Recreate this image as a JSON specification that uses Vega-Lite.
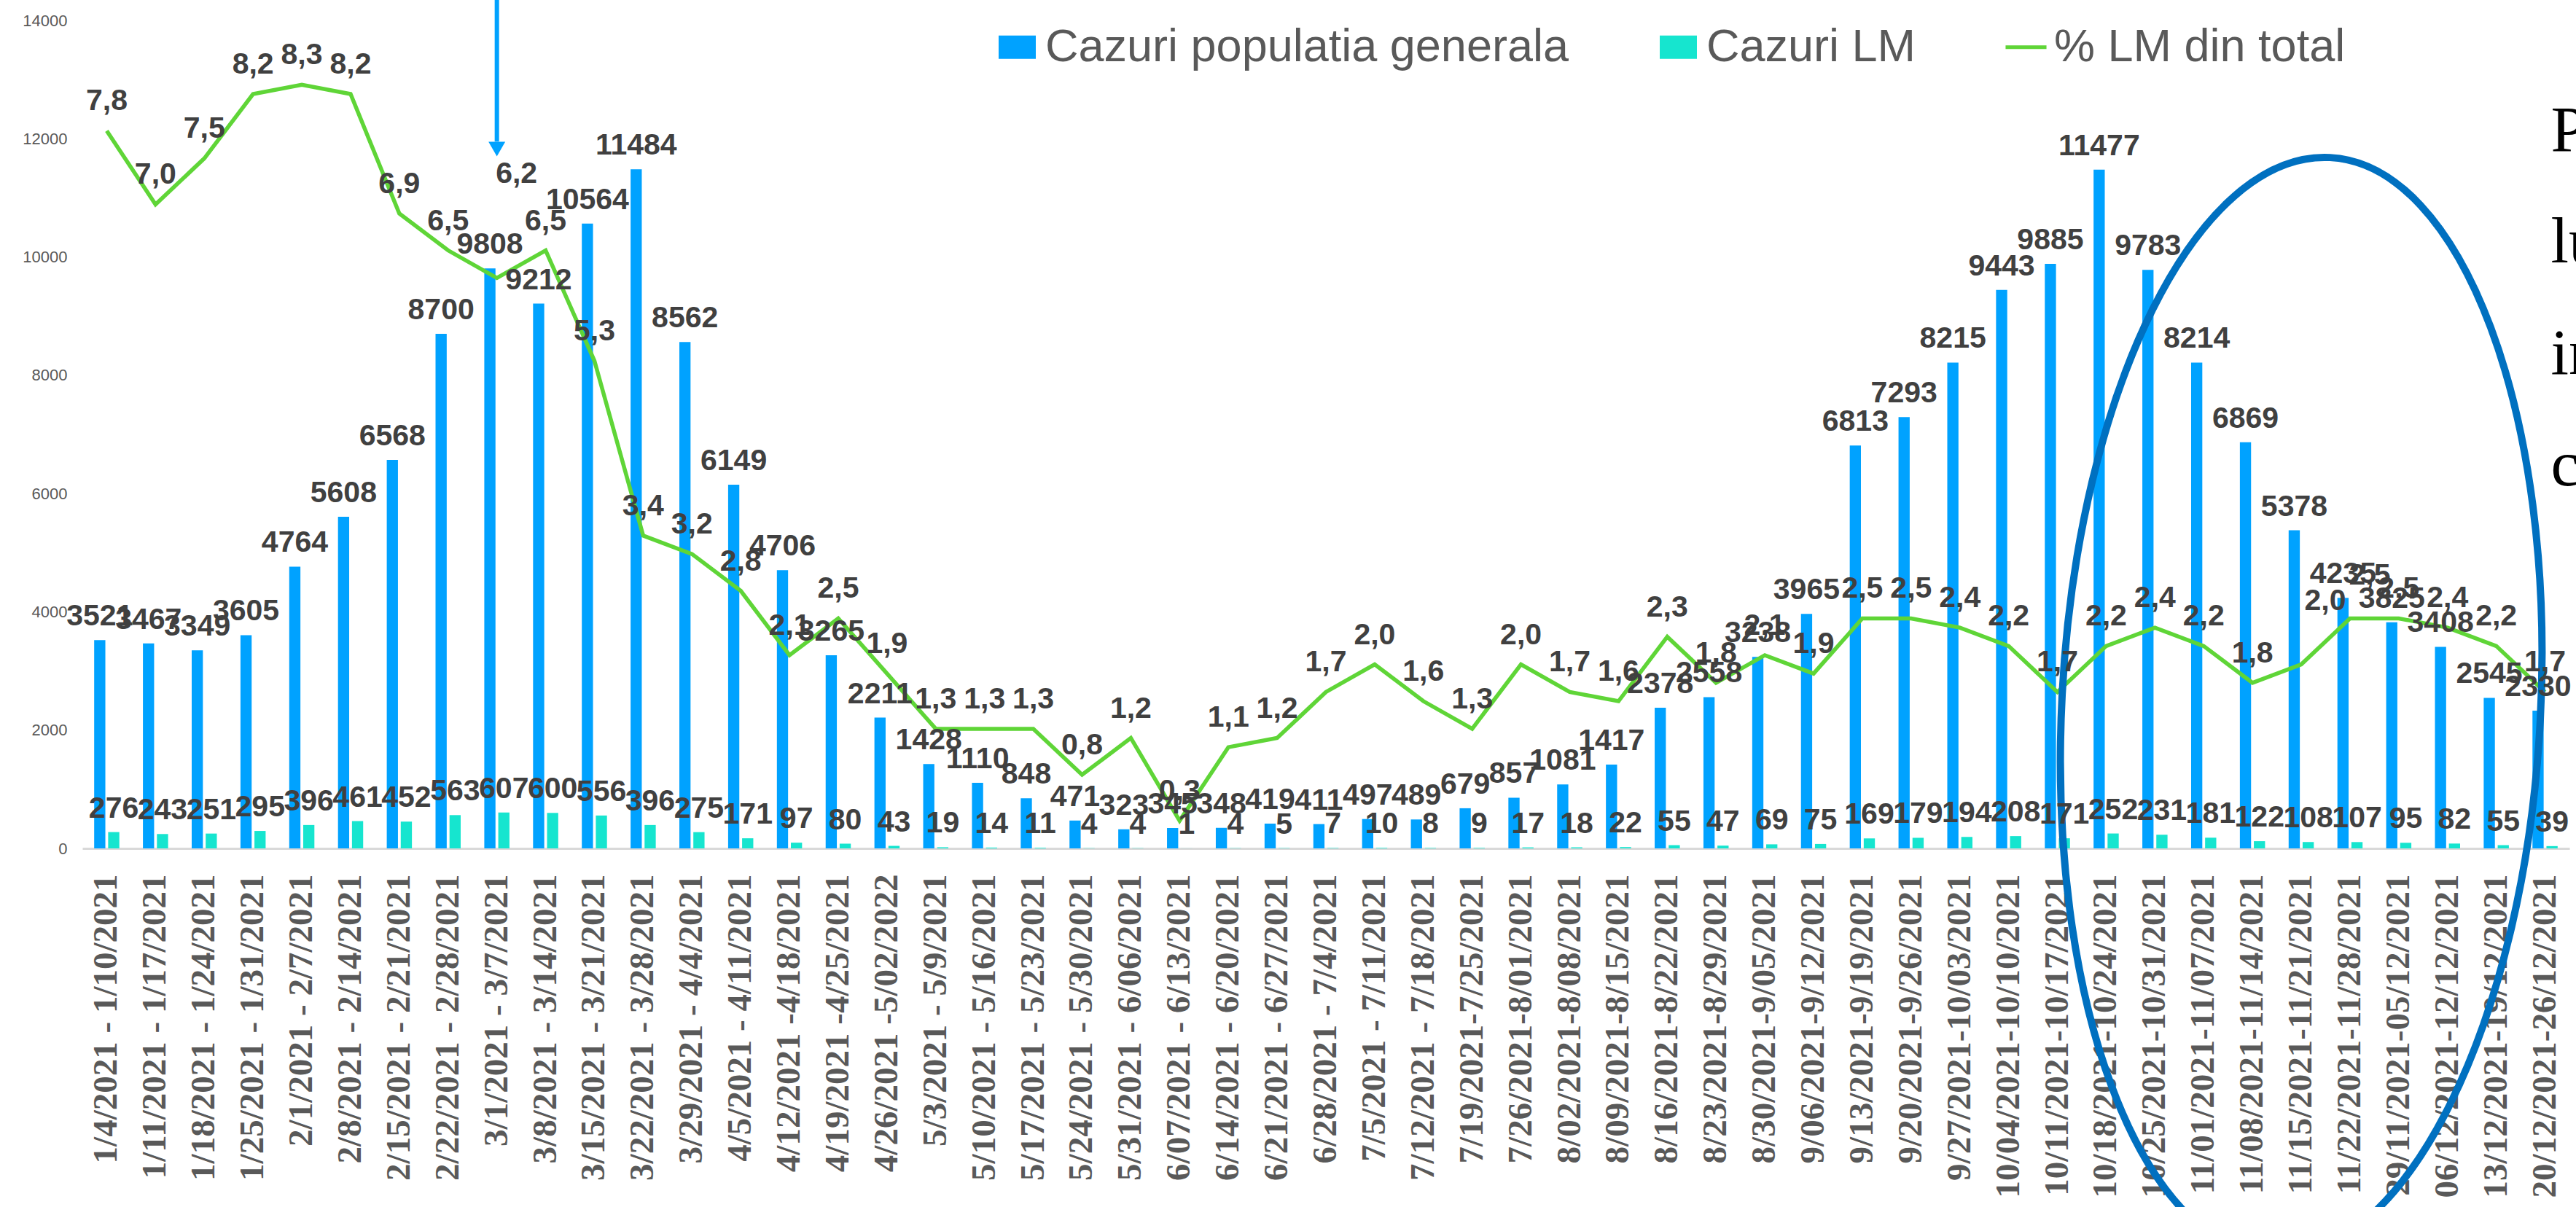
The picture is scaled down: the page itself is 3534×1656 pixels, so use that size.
{
  "$schema": "https://vega.github.io/schema/vega-lite/v6.json",
  "width": 3412,
  "height": 1136,
  "autosize": {"type": "none"},
  "padding": {"left": 113, "top": 28, "right": 9, "bottom": 492},
  "background": "white",
  "config": {
    "view": {"stroke": null},
    "font": "Liberation Sans",
    "locale": {"number": {"decimal": ",", "thousands": ".", "grouping": [3], "currency": ["", ""]}}
  },
  "data": {"values": [
    {"week": "1/4/2021 - 1/10/2021", "gen": 3521, "lm": 276, "pct": 7.8},
    {"week": "1/11/2021 - 1/17/2021", "gen": 3467, "lm": 243, "pct": 7.0},
    {"week": "1/18/2021 - 1/24/2021", "gen": 3349, "lm": 251, "pct": 7.5},
    {"week": "1/25/2021 - 1/31/2021", "gen": 3605, "lm": 295, "pct": 8.2},
    {"week": "2/1/2021 - 2/7/2021", "gen": 4764, "lm": 396, "pct": 8.3},
    {"week": "2/8/2021 - 2/14/2021", "gen": 5608, "lm": 461, "pct": 8.2},
    {"week": "2/15/2021 - 2/21/2021", "gen": 6568, "lm": 452, "pct": 6.9},
    {"week": "2/22/2021 - 2/28/2021", "gen": 8700, "lm": 563, "pct": 6.5},
    {"week": "3/1/2021 - 3/7/2021", "gen": 9808, "lm": 607, "pct": 6.2},
    {"week": "3/8/2021 - 3/14/2021", "gen": 9212, "lm": 600, "pct": 6.5},
    {"week": "3/15/2021 - 3/21/2021", "gen": 10564, "lm": 556, "pct": 5.3},
    {"week": "3/22/2021 - 3/28/2021", "gen": 11484, "lm": 396, "pct": 3.4},
    {"week": "3/29/2021 - 4/4/2021", "gen": 8562, "lm": 275, "pct": 3.2},
    {"week": "4/5/2021 - 4/11/2021", "gen": 6149, "lm": 171, "pct": 2.8},
    {"week": "4/12/2021 -4/18/2021", "gen": 4706, "lm": 97, "pct": 2.1},
    {"week": "4/19/2021 -4/25/2021", "gen": 3265, "lm": 80, "pct": 2.5},
    {"week": "4/26/2021 -5/02/2022", "gen": 2211, "lm": 43, "pct": 1.9},
    {"week": "5/3/2021 - 5/9/2021", "gen": 1428, "lm": 19, "pct": 1.3},
    {"week": "5/10/2021 - 5/16/2021", "gen": 1110, "lm": 14, "pct": 1.3},
    {"week": "5/17/2021 - 5/23/2021", "gen": 848, "lm": 11, "pct": 1.3},
    {"week": "5/24/2021 - 5/30/2021", "gen": 471, "lm": 4, "pct": 0.8},
    {"week": "5/31/2021 - 6/06/2021", "gen": 323, "lm": 4, "pct": 1.2},
    {"week": "6/07/2021 - 6/13/2021", "gen": 345, "lm": 1, "pct": 0.3},
    {"week": "6/14/2021 - 6/20/2021", "gen": 348, "lm": 4, "pct": 1.1},
    {"week": "6/21/2021 - 6/27/2021", "gen": 419, "lm": 5, "pct": 1.2},
    {"week": "6/28/2021 - 7/4/2021", "gen": 411, "lm": 7, "pct": 1.7},
    {"week": "7/5/2021 - 7/11/2021", "gen": 497, "lm": 10, "pct": 2.0},
    {"week": "7/12/2021 - 7/18/2021", "gen": 489, "lm": 8, "pct": 1.6},
    {"week": "7/19/2021-7/25/2021", "gen": 679, "lm": 9, "pct": 1.3},
    {"week": "7/26/2021-8/01/2021", "gen": 857, "lm": 17, "pct": 2.0},
    {"week": "8/02/2021-8/08/2021", "gen": 1081, "lm": 18, "pct": 1.7},
    {"week": "8/09/2021-8/15/2021", "gen": 1417, "lm": 22, "pct": 1.6},
    {"week": "8/16/2021-8/22/2021", "gen": 2378, "lm": 55, "pct": 2.3},
    {"week": "8/23/2021-8/29/2021", "gen": 2558, "lm": 47, "pct": 1.8},
    {"week": "8/30/2021-9/05/2021", "gen": 3238, "lm": 69, "pct": 2.1},
    {"week": "9/06/2021-9/12/2021", "gen": 3965, "lm": 75, "pct": 1.9},
    {"week": "9/13/2021-9/19/2021", "gen": 6813, "lm": 169, "pct": 2.5},
    {"week": "9/20/2021-9/26/2021", "gen": 7293, "lm": 179, "pct": 2.5},
    {"week": "9/27/2021-10/03/2021", "gen": 8215, "lm": 194, "pct": 2.4},
    {"week": "10/04/2021-10/10/2021", "gen": 9443, "lm": 208, "pct": 2.2},
    {"week": "10/11/2021-10/17/2021", "gen": 9885, "lm": 171, "pct": 1.7},
    {"week": "10/18/2021-10/24/2021", "gen": 11477, "lm": 252, "pct": 2.2},
    {"week": "10/25/2021-10/31/2021", "gen": 9783, "lm": 231, "pct": 2.4},
    {"week": "11/01/2021-11/07/2021", "gen": 8214, "lm": 181, "pct": 2.2},
    {"week": "11/08/2021-11/14/2021", "gen": 6869, "lm": 122, "pct": 1.8},
    {"week": "11/15/2021-11/21/2021", "gen": 5378, "lm": 108, "pct": 2.0},
    {"week": "11/22/2021-11/28/2021", "gen": 4235, "lm": 107, "pct": 2.5},
    {"week": "29/11/2021-05/12/2021", "gen": 3825, "lm": 95, "pct": 2.5},
    {"week": "06/12/2021-12/12/2021", "gen": 3408, "lm": 82, "pct": 2.4},
    {"week": "13/12/2021-19/12/2021", "gen": 2545, "lm": 55, "pct": 2.2},
    {"week": "20/12/2021-26/12/2021", "gen": 2330, "lm": 39, "pct": 1.7}
  ]},
  "encoding": {
    "x": {
      "field": "week",
      "type": "nominal",
      "scale": {
        "domain": ["1/4/2021 - 1/10/2021","1/11/2021 - 1/17/2021","1/18/2021 - 1/24/2021","1/25/2021 - 1/31/2021","2/1/2021 - 2/7/2021","2/8/2021 - 2/14/2021","2/15/2021 - 2/21/2021","2/22/2021 - 2/28/2021","3/1/2021 - 3/7/2021","3/8/2021 - 3/14/2021","3/15/2021 - 3/21/2021","3/22/2021 - 3/28/2021","3/29/2021 - 4/4/2021","4/5/2021 - 4/11/2021","4/12/2021 -4/18/2021","4/19/2021 -4/25/2021","4/26/2021 -5/02/2022","5/3/2021 - 5/9/2021","5/10/2021 - 5/16/2021","5/17/2021 - 5/23/2021","5/24/2021 - 5/30/2021","5/31/2021 - 6/06/2021","6/07/2021 - 6/13/2021","6/14/2021 - 6/20/2021","6/21/2021 - 6/27/2021","6/28/2021 - 7/4/2021","7/5/2021 - 7/11/2021","7/12/2021 - 7/18/2021","7/19/2021-7/25/2021","7/26/2021-8/01/2021","8/02/2021-8/08/2021","8/09/2021-8/15/2021","8/16/2021-8/22/2021","8/23/2021-8/29/2021","8/30/2021-9/05/2021","9/06/2021-9/12/2021","9/13/2021-9/19/2021","9/20/2021-9/26/2021","9/27/2021-10/03/2021","10/04/2021-10/10/2021","10/11/2021-10/17/2021","10/18/2021-10/24/2021","10/25/2021-10/31/2021","11/01/2021-11/07/2021","11/08/2021-11/14/2021","11/15/2021-11/21/2021","11/22/2021-11/28/2021","29/11/2021-05/12/2021","06/12/2021-12/12/2021","13/12/2021-19/12/2021","20/12/2021-26/12/2021"],
        "paddingInner": 0.484,
        "paddingOuter": 0.242
      },
      "axis": {
        "title": null,
        "labelAngle": -90,
        "labelFont": "Liberation Serif",
        "labelFontWeight": "bold",
        "labelFontSize": 47,
        "labelColor": "#595959",
        "labelPadding": 35,
        "ticks": false,
        "grid": false,
        "domainColor": "#D9D9D9",
        "domainWidth": 3,
        "labelLimit": 800,
        "labelOverlap": false
      }
    }
  },
  "layer": [
    {
      "transform": [{"fold": ["gen", "lm"], "as": ["series", "value"]}],
      "mark": {"type": "bar"},
      "encoding": {
        "y": {
          "field": "value", "type": "quantitative",
          "scale": {"domain": [0, 14000], "nice": false},
          "axis": {"title": null, "values": [0, 2000, 4000, 6000, 8000, 10000, 12000, 14000], "format": "d", "domain": false, "ticks": false, "grid": false, "labelFont": "Liberation Sans", "labelFontSize": 22, "labelColor": "#595959", "labelPadding": 21}
        },
        "xOffset": {"field": "series", "type": "nominal", "scale": {"domain": ["gen", "lm"], "paddingInner": 0.2}},
        "color": {
          "field": "series", "type": "nominal",
          "scale": {"domain": ["gen", "lm", "pct"], "range": ["#00A2FF", "#16E5CF", "#5FD537"]},
          "legend": {
            "title": null,
            "orient": "none",
            "legendX": 1251,
            "legendY": 5,
            "direction": "horizontal",
            "padding": 0,
            "symbolSize": 2601,
            "symbolStrokeWidth": 0,
            "symbolOpacity": 1,
            "labelFontSize": 63,
            "labelColor": "#595959",
            "labelFont": "Liberation Sans",
            "labelOffset": 7,
            "columnPadding": 119,
            "labelLimit": 1200,
            "labelExpr": "datum.value == 'gen' ? 'Cazuri populatia generala' : datum.value == 'lm' ? 'Cazuri LM' : '% LM din total'",
            "encode": {"symbols": {"update": {"shape": {"signal": "datum.value == 'pct' ? 'M-1.1,-0.1H1.1V0.1H-1.1Z' : 'M-1,-0.63H1V0.63H-1Z'"}}}}
          }
        }
      }
    },
    {
      "mark": {"type": "line", "stroke": "#5FD537", "strokeWidth": 5.5},
      "encoding": {
        "y": {"field": "pct", "type": "quantitative", "scale": {"domain": [0, 9], "nice": false}, "axis": null}
      }
    },
    {
      "transform": [{"filter": "datum.week == '11/15/2021-11/21/2021'"}],
      "mark": {"type": "point", "shape": "M0.0523,-0.9986C0.2923,-0.986 0.4633,-0.5288 0.4344,0.0228C0.4055,0.5743 0.1877,1.0112 -0.0523,0.9986C-0.2923,0.986 -0.4633,0.5288 -0.4344,-0.0228C-0.4055,-0.5743 -0.1877,-1.0112 0.0523,-0.9986Z", "size": 2280100, "filled": false, "stroke": "#0070C0", "strokeWidth": 10, "opacity": 1},
      "encoding": {
        "y": {"datum": 2390, "type": "quantitative", "scale": {"domain": [0, 14000], "nice": false}, "axis": null}
      }
    },
    {
      "transform": [{"filter": "datum.week == '3/1/2021 - 3/7/2021'"}],
      "mark": {"type": "rule", "stroke": "#00A2FF", "strokeWidth": 6},
      "encoding": {
        "y": {"datum": 14345, "type": "quantitative", "scale": {"domain": [0, 14000], "nice": false}, "axis": null},
        "y2": {"datum": 11950}
      }
    },
    {
      "transform": [{"filter": "datum.week == '3/1/2021 - 3/7/2021'"}],
      "mark": {"type": "point", "shape": "triangle-down", "size": 529, "filled": true, "fill": "#00A2FF", "opacity": 1},
      "encoding": {
        "y": {"datum": 11825, "type": "quantitative", "scale": {"domain": [0, 14000], "nice": false}, "axis": null}
      }
    },
    {
      "transform": [{"filter": "datum.week == '20/12/2021-26/12/2021'"}],
      "mark": {"type": "text", "align": "left", "baseline": "alphabetic", "dx": 8, "font": "Liberation Serif", "fontSize": 88, "fill": "#000000", "lineHeight": 153},
      "encoding": {
        "y": {"datum": 11800, "type": "quantitative", "scale": {"domain": [0, 14000], "nice": false}, "axis": null},
        "text": {"value": ["P", "lu", "in", "c"]}
      }
    },
    {
      "transform": [{"fold": ["gen", "lm"], "as": ["series", "value"]}],
      "mark": {"type": "text", "baseline": "alphabetic", "dy": -20, "fontSize": 41, "fontWeight": "bold", "fill": "#404040"},
      "encoding": {
        "y": {"field": "value", "type": "quantitative", "scale": {"domain": [0, 14000], "nice": false}, "axis": null},
        "xOffset": {"field": "series", "type": "nominal"},
        "text": {"field": "value", "type": "quantitative", "format": "d"}
      }
    },
    {
      "transform": [{"filter": "datum.week != '3/1/2021 - 3/7/2021' && datum.week != '11/15/2021-11/21/2021' && datum.week != '11/22/2021-11/28/2021'"}],
      "mark": {"type": "text", "baseline": "alphabetic", "dy": -28, "fontSize": 41, "fontWeight": "bold", "fill": "#404040"},
      "encoding": {
        "y": {"field": "pct", "type": "quantitative", "scale": {"domain": [0, 9], "nice": false}, "axis": null},
        "text": {"field": "pct", "type": "quantitative", "format": ".1f"}
      }
    },
    {
      "transform": [{"filter": "datum.week == '3/1/2021 - 3/7/2021'"}],
      "mark": {"type": "text", "baseline": "alphabetic", "dx": 27, "dy": -130, "fontSize": 41, "fontWeight": "bold", "fill": "#404040"},
      "encoding": {
        "y": {"field": "pct", "type": "quantitative", "scale": {"domain": [0, 9], "nice": false}, "axis": null},
        "text": {"field": "pct", "type": "quantitative", "format": ".1f"}
      }
    },
    {
      "transform": [{"filter": "datum.week == '11/15/2021-11/21/2021'"}],
      "mark": {"type": "text", "baseline": "alphabetic", "dx": 33, "dy": -75, "fontSize": 41, "fontWeight": "bold", "fill": "#404040"},
      "encoding": {
        "y": {"field": "pct", "type": "quantitative", "scale": {"domain": [0, 9], "nice": false}, "axis": null},
        "text": {"field": "pct", "type": "quantitative", "format": ".1f"}
      }
    },
    {
      "transform": [{"filter": "datum.week == '11/22/2021-11/28/2021'"}],
      "mark": {"type": "text", "baseline": "alphabetic", "dx": 27, "dy": -46, "fontSize": 41, "fontWeight": "bold", "fill": "#404040"},
      "encoding": {
        "y": {"field": "pct", "type": "quantitative", "scale": {"domain": [0, 9], "nice": false}, "axis": null},
        "text": {"field": "pct", "type": "quantitative", "format": ".1f"}
      }
    }
  ],
  "resolve": {"scale": {"y": "independent"}, "axis": {"y": "independent"}}
}
